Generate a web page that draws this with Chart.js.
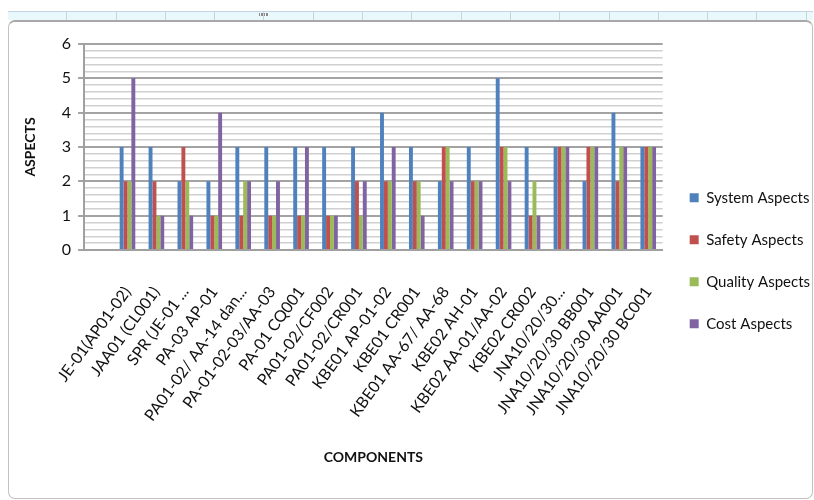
<!DOCTYPE html>
<html>
<head>
<meta charset="utf-8">
<script src="https://cdn.jsdelivr.net/npm/chart.js@4/dist/chart.umd.min.js"></script>
<style>
  html, body { margin: 0; padding: 0; background: #fff; width: 814px; height: 500px; overflow: hidden; }
  #band {
    position: absolute; left: 8px; top: 11px; width: 805px; height: 8px;
    background-color: #e8f8fb;
    background-image: repeating-linear-gradient(90deg, transparent 0px, transparent 48.3px, #c6d6dc 48.3px, #c6d6dc 49.3px);
    background-position: 10px 0;
    border-top: 1px solid #c4d3e6;
  }
  #grip { position: absolute; left: 259px; top: 13px; width: 10px; height: 3px;
    background-image: repeating-linear-gradient(90deg, #8a8a8a 0 1.5px, transparent 1.5px 2.5px); }
  #frame {
    position: absolute; left: 8px; top: 20px; width: 803px; height: 476px;
    border: 1px solid #c2c2c2; border-top: 2px solid #a8a8a8; border-radius: 7px;
  }
  #wrap { position: absolute; left: 0; top: 0; width: 814px; height: 500px; }
</style>
</head>
<body>
<div id="band"></div>
<div id="grip"></div>
<div id="frame"></div>
<div id="wrap"><canvas id="chart" width="814" height="500"></canvas></div>
<script>
// Components along the x axis (the first slot is left empty)
const components = [
  '', 'JE-01(AP01-02)', 'JAA01 (CL001)', 'SPR (JE-01 ...', 'PA-03 AP-01',
  'PA01-02/ AA-14 dan...', 'PA-01-02-03/AA-03', 'PA-01 CQ001', 'PA01-02/CF002',
  'PA01-02/CR001', 'KBE01 AP-01-02', 'KBE01 CR001', 'KBE01 AA-67/ AA-68',
  'KBE02 AH-01', 'KBE02 AA-01/AA-02', 'KBE02 CR002', 'JNA10/20/30...',
  'JNA10/20/30 BB001', 'JNA10/20/30 AA001', 'JNA10/20/30 BC001'
];

// Aspect scores per component
const systemAspects  = [null, 3, 3, 2, 2, 3, 3, 3, 3, 3, 4, 3, 2, 3, 5, 3, 3, 2, 4, 3];
const safetyAspects  = [null, 2, 2, 3, 1, 1, 1, 1, 1, 2, 2, 2, 3, 2, 3, 1, 3, 3, 2, 3];
const qualityAspects = [null, 2, 1, 2, 1, 2, 1, 1, 1, 1, 2, 2, 3, 2, 3, 2, 3, 3, 3, 3];
const costAspects    = [null, 5, 1, 1, 4, 2, 2, 3, 1, 2, 3, 1, 2, 2, 2, 1, 3, 3, 3, 3];

// Value axis: labelled whole numbers with minor lines in between
const yMin = 0;
const yMax = 6;
const yMinorStep = 0.2;

const FONT = 'Lato, "Open Sans", sans-serif';
const isWhole = v => Math.abs(v - Math.round(v)) < 1e-6;

new Chart(document.getElementById('chart'), {
  type: 'bar',
  data: {
    labels: components,
    datasets: [
      { label: 'System Aspects',  data: systemAspects,  backgroundColor: '#4F81BD' },
      { label: 'Safety Aspects',  data: safetyAspects,  backgroundColor: '#C0504D' },
      { label: 'Quality Aspects', data: qualityAspects, backgroundColor: '#9BBB59' },
      { label: 'Cost Aspects',    data: costAspects,    backgroundColor: '#8064A2' }
    ]
  },
  options: {
    responsive: false,
    animation: false,
    events: [],
    datasets: { bar: { barPercentage: 1.0, categoryPercentage: 0.54 } },
    layout: { padding: { top: 44, left: 22, right: -6, bottom: 44 } },
    scales: {
      x: {
        grid: { display: false },
        border: { display: true, color: '#a0a0a0', width: 2 },
        ticks: {
          autoSkip: false, minRotation: 54, maxRotation: 54, padding: 25,
          color: '#111', font: { family: FONT, size: 16 }
        },
        title: {
          display: true, text: 'COMPONENTS', color: '#111', padding: { top: 0, bottom: -10 },
          font: { family: FONT, size: 14, weight: 'bold' }
        }
      },
      y: {
        min: yMin, max: yMax,
        ticks: {
          stepSize: yMinorStep, autoSkip: false, padding: 7,
          color: '#111', font: { family: FONT, size: 16 },
          callback: v => isWhole(v) ? String(Math.round(v)) : ''
        },
        grid: {
          drawTicks: true, tickLength: 6,
          color: c => isWhole(c.tick.value) ? '#a3a3a3' : '#d0d0d0',
          lineWidth: c => isWhole(c.tick.value) ? 2 : 1.5,
          tickColor: c => isWhole(c.tick.value) ? '#a3a3a3' : 'rgba(0,0,0,0)',
          tickWidth: 2
        },
        border: { display: true, color: '#a0a0a0', width: 2 },
        title: {
          display: true, text: 'ASPECTS', color: '#111', padding: { top: 0, bottom: 16 },
          font: { family: FONT, size: 14, weight: 'bold' }
        }
      }
    },
    plugins: {
      tooltip: { enabled: false },
      legend: {
        position: 'right',
        // blank title row nudges the legend items a little lower
        title: { display: true, text: ' ', padding: 0, font: { family: FONT, size: 18 } },
        labels: {
          boxWidth: 9, boxHeight: 9, padding: 27, color: '#111',
          font: { family: FONT, size: 15 }
        }
      }
    }
  }
});
</script>
</body>
</html>
